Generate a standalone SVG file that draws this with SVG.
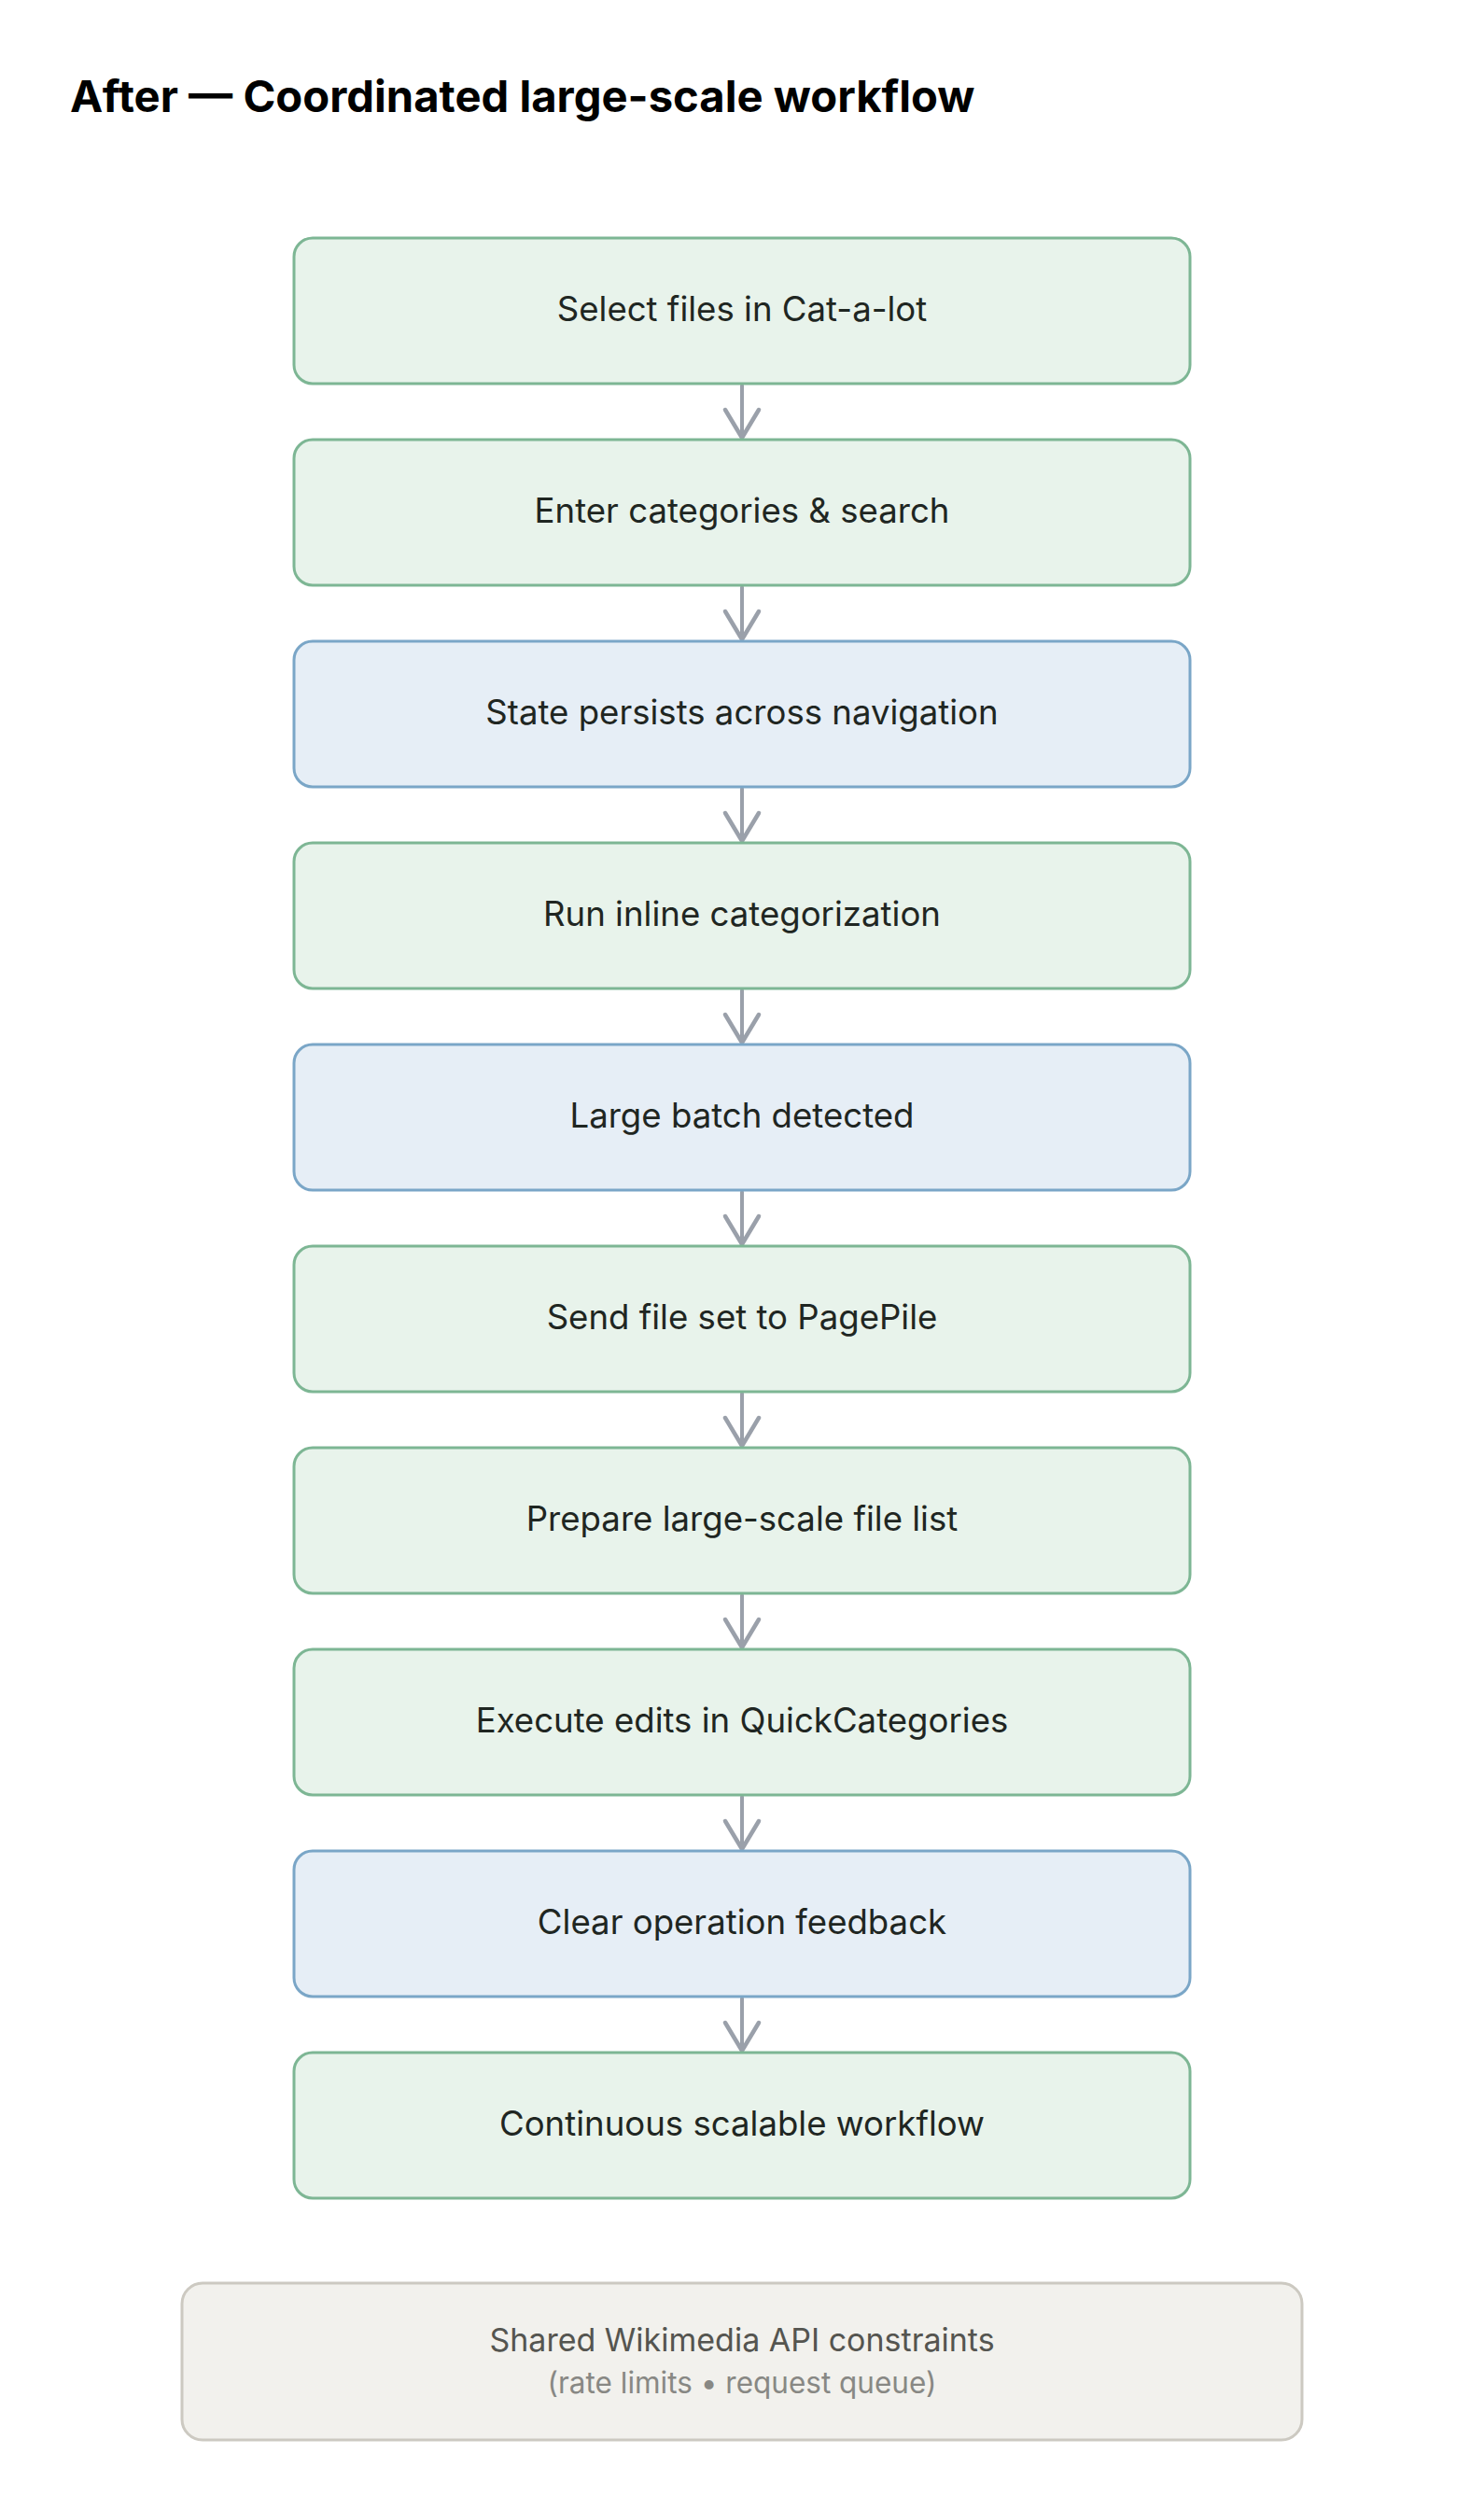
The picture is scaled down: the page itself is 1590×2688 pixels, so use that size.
<svg xmlns="http://www.w3.org/2000/svg" width="1590" height="2688" viewBox="0 0 1590 2688">
<defs>
<style>
.title{font-family:Inter,"Liberation Sans",sans-serif;font-weight:700;font-size:47.2px;fill:#000}
.box rect{stroke-width:3}
.g rect{fill:#e8f3eb;stroke:#7db694}
.b rect{fill:#e6eef6;stroke:#7aa6c7}
.lbl{font-family:Inter,"Liberation Sans",sans-serif;font-size:36.6px;fill:#1f2622;text-anchor:middle}
.conn line{stroke:#9aa0aa;stroke-width:4;stroke-linecap:round}
.foot rect{fill:#f2f1ed;stroke:#ccc9c1;stroke-width:3}
.f1{font-family:Inter,"Liberation Sans",sans-serif;font-size:34px;fill:#555550;text-anchor:middle}
.f2{font-family:Inter,"Liberation Sans",sans-serif;font-size:31.5px;fill:#888884;text-anchor:middle}
</style>
<marker id="arr" viewBox="-34 -22 38 44" refX="0" refY="0" markerWidth="38" markerHeight="44" markerUnits="userSpaceOnUse" orient="auto" overflow="visible">
<path d="M-30,-18 L0,0 L-30,18" fill="none" stroke="#9aa0aa" stroke-width="4.5" stroke-linecap="round" stroke-linejoin="round"/>
</marker>
</defs>
<rect width="1590" height="2688" fill="#fff"/>
<text class="title" x="75" y="120">After — Coordinated large-scale workflow</text>
<g id="connectors" class="conn">
<line x1="795" y1="413" x2="795" y2="469" marker-end="url(#arr)"/>
<line x1="795" y1="629" x2="795" y2="685" marker-end="url(#arr)"/>
<line x1="795" y1="845" x2="795" y2="901" marker-end="url(#arr)"/>
<line x1="795" y1="1061" x2="795" y2="1117" marker-end="url(#arr)"/>
<line x1="795" y1="1277" x2="795" y2="1333" marker-end="url(#arr)"/>
<line x1="795" y1="1493" x2="795" y2="1549" marker-end="url(#arr)"/>
<line x1="795" y1="1709" x2="795" y2="1765" marker-end="url(#arr)"/>
<line x1="795" y1="1925" x2="795" y2="1981" marker-end="url(#arr)"/>
<line x1="795" y1="2141" x2="795" y2="2197" marker-end="url(#arr)"/>
</g>
<g id="n1" class="box g"><rect x="315" y="255" width="960" height="156" rx="20"/><text class="lbl" x="795" y="344">Select files in Cat-a-lot</text></g>
<g id="n2" class="box g"><rect x="315" y="471" width="960" height="156" rx="20"/><text class="lbl" x="795" y="560">Enter categories &amp; search</text></g>
<g id="n3" class="box b"><rect x="315" y="687" width="960" height="156" rx="20"/><text class="lbl" x="795" y="776">State persists across navigation</text></g>
<g id="n4" class="box g"><rect x="315" y="903" width="960" height="156" rx="20"/><text class="lbl" x="795" y="992">Run inline categorization</text></g>
<g id="n5" class="box b"><rect x="315" y="1119" width="960" height="156" rx="20"/><text class="lbl" x="795" y="1208">Large batch detected</text></g>
<g id="n6" class="box g"><rect x="315" y="1335" width="960" height="156" rx="20"/><text class="lbl" x="795" y="1424">Send file set to PagePile</text></g>
<g id="n7" class="box g"><rect x="315" y="1551" width="960" height="156" rx="20"/><text class="lbl" x="795" y="1640">Prepare large-scale file list</text></g>
<g id="n8" class="box g"><rect x="315" y="1767" width="960" height="156" rx="20"/><text class="lbl" x="795" y="1856">Execute edits in QuickCategories</text></g>
<g id="n9" class="box b"><rect x="315" y="1983" width="960" height="156" rx="20"/><text class="lbl" x="795" y="2072">Clear operation feedback</text></g>
<g id="n10" class="box g"><rect x="315" y="2199" width="960" height="156" rx="20"/><text class="lbl" x="795" y="2288">Continuous scalable workflow</text></g>
<g id="footer" class="foot"><rect x="195" y="2446" width="1200" height="168" rx="22"/><text class="f1" x="795" y="2519">Shared Wikimedia API constraints</text><text class="f2" x="795" y="2564">(rate limits • request queue)</text></g>
</svg>
